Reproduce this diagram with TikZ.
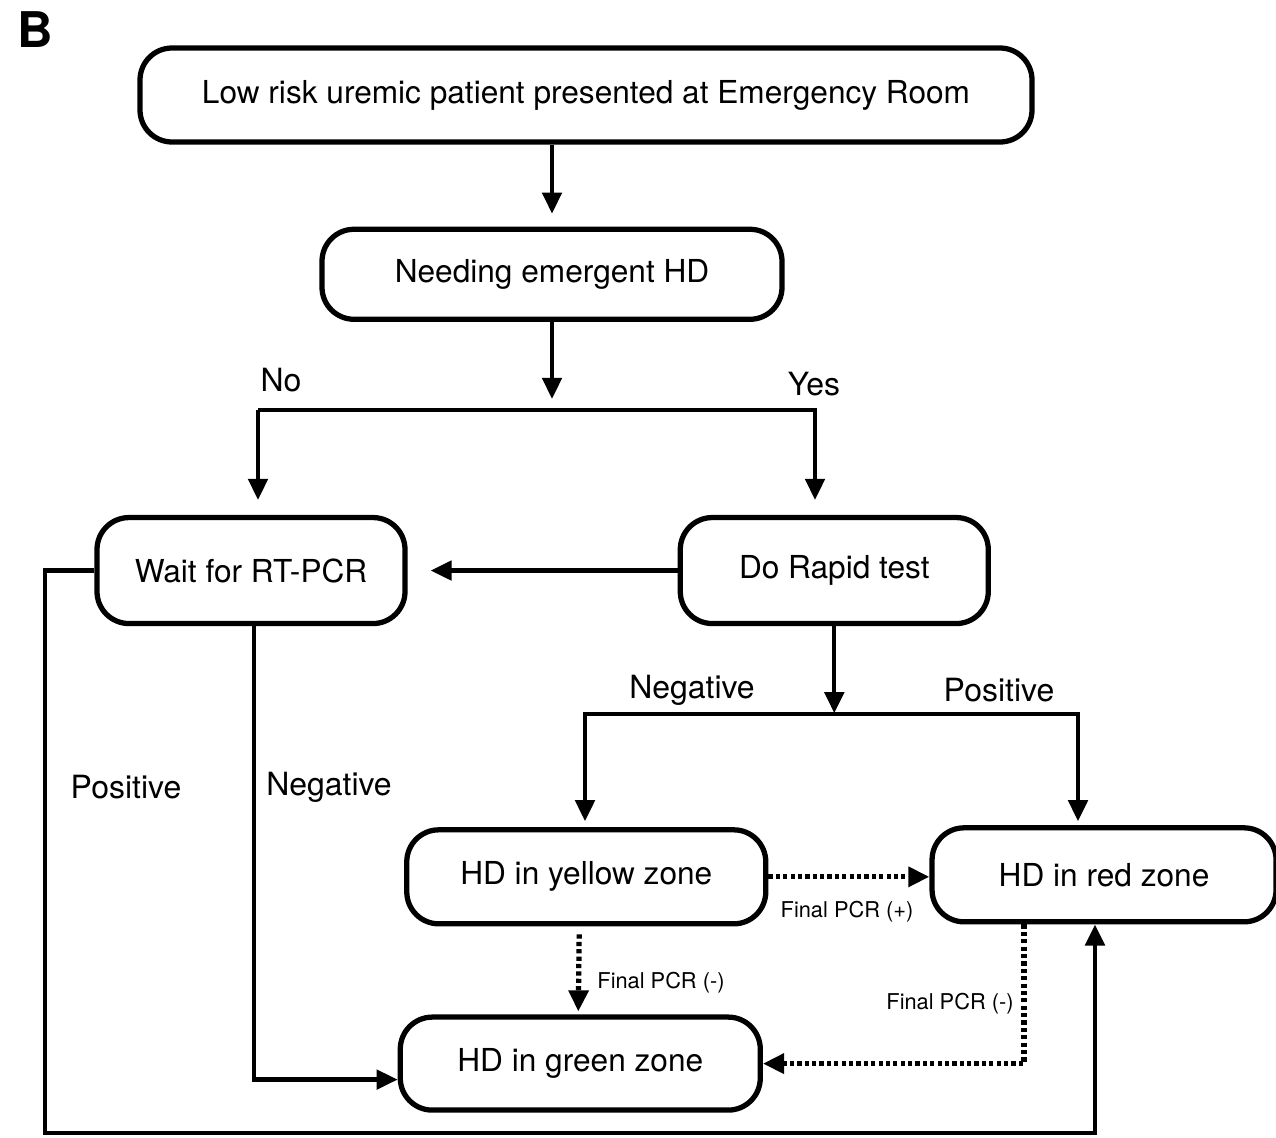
\documentclass[tikz,border=0pt]{standalone}
\usepackage{fontspec}
\setmainfont{TeX Gyre Heros}
\usetikzlibrary{arrows.meta, positioning}

\begin{document}
\begin{tikzpicture}[
  node distance=1cm,
  box/.style={rectangle, rounded corners=0.32cm, draw=black, line width=1.5pt,
              align=center, inner sep=0pt, font=\fontsize{9}{10}\selectfont},
  lbl/.style={inner sep=1pt, font=\fontsize{9.1}{10}\selectfont},
  note/.style={inner sep=1pt, font=\fontsize{6.2}{7}\selectfont},
  arrow/.style={-{Triangle[length=6pt, width=5.5pt]}, line width=1.2pt},
  dotarrow/.style={arrow, line width=1.5pt, dash pattern=on 1.2pt off 0.9pt},
]
  \useasboundingbox (0,0) rectangle (12.76,-11.37);
  \node[font=\fontsize{14}{16}\selectfont\bfseries] (panel) at (0.35,-0.30) {B};

  % boxes
  \node[box, minimum width=8.92cm, minimum height=0.94cm] (top) at (5.86,-0.95)
    {Low risk uremic patient presented at Emergency Room};
  \node[box, minimum width=4.6cm, minimum height=0.9cm, below=0.82cm of top, xshift=-0.34cm] (needing)
    {Needing emergent HD};
  \node[box, minimum width=3.08cm, minimum height=1.06cm, below=1.93cm of needing, xshift=-3.01cm] (wait)
    {Wait for RT-PCR};
  \node[box, minimum width=3.08cm, minimum height=1.06cm, right=2.70cm of wait] (rapid)
    {Do Rapid test};
  \node[box, minimum width=3.59cm, minimum height=0.94cm, below=2.01cm of rapid, xshift=-2.48cm] (yellow)
    {HD in yellow zone};
  \node[box, minimum width=3.44cm, minimum height=0.94cm, right=1.61cm of yellow, yshift=0.02cm] (red)
    {HD in red zone};
  \node[box, minimum width=3.6cm, minimum height=0.93cm, below=0.88cm of yellow, xshift=-0.06cm] (green)
    {HD in green zone};

  % turning points
  \coordinate (noturn) at (2.58,-4.10);
  \coordinate (yesturn) at (8.15,-4.10);
  \coordinate (negturn) at (5.85,-7.14);
  \coordinate (posturn) at (10.78,-7.14);
  \coordinate (loopcorner) at (10.95,-11.33);

  % labels
  \node[lbl] (nolbl) at (2.81,-3.80) {No};
  \node[lbl] (yeslbl) at (8.14,-3.84) {Yes};
  \node[lbl] (neglbl) at (6.92,-6.90) {Negative};
  \node[lbl] (poslbl) at (9.99,-6.90) {Positive};
  \node[lbl] (waitpos) at (1.26,-7.87) {Positive};
  \node[lbl] (waitneg) at (3.29,-7.87) {Negative};
  \node[note] (pcrplus) at (8.47,-9.12) {Final PCR (+)};
  \node[note] (pcrminus) at (6.61,-9.83) {Final PCR (-)};
  \node[note] (pcrred) at (9.50,-10.04) {Final PCR (-)};

  % connectors
  \draw[arrow, shorten >=0.13cm] (top.south -| needing) -- (needing);
  \draw[arrow] (needing.south) -- ++(0,-0.77);
  \draw[arrow, shorten >=0.15cm] (noturn) -- (yesturn) -- (yesturn |- rapid.north);
  \draw[arrow, shorten >=0.15cm] (noturn) -- (noturn |- wait.north);
  \draw[arrow, shorten >=0.23cm] (rapid.west) -- (wait.east);
  \draw[arrow] (rapid.south) -- ++(0,-0.87);
  \draw[arrow, shorten >=0.06cm] (posturn) -- (negturn) -- (negturn |- yellow.north);
  \draw[arrow, shorten >=0.04cm] (negturn) -- (posturn) -- (posturn |- red.north);
  \draw[arrow] ([xshift=0.03cm]wait.south) |- ([yshift=-0.16cm]green.west);
  \draw[arrow] (wait.west) -- ++(-0.49,0) |- (loopcorner) -- (loopcorner |- red.south);
  \draw[dotarrow] (yellow.east) -- (yellow.east -| red.west);
  \draw[dotarrow, shorten <=0.08cm, shorten >=0.03cm] ([xshift=-0.07cm]yellow.south) -- ([xshift=-0.02cm]green.north);
  \draw[dotarrow] ([xshift=-0.8cm]red.south) |- (green.east);
\end{tikzpicture}
\end{document}
